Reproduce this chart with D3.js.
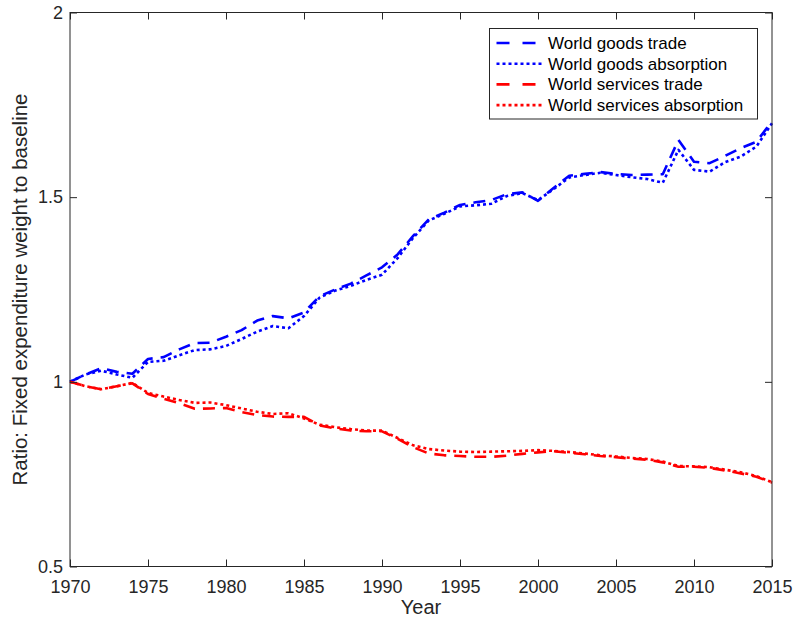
<!DOCTYPE html>
<html>
<head>
<meta charset="utf-8">
<script src="https://cdn.jsdelivr.net/npm/d3@7"></script>
<style>
  html, body { margin: 0; padding: 0; background: #fff; }
  svg { display: block; font-family: "Liberation Sans", Arial, Helvetica, sans-serif; }
</style>
</head>
<body>
<svg id="chart" width="796" height="627"></svg>
<script>
// Years 1970–2015
const years = d3.range(1970, 2016);

const goodsTrade = [
  1.000, 1.020, 1.037, 1.027, 1.022, 1.062, 1.067, 1.088, 1.105, 1.106,
  1.122, 1.140, 1.166, 1.178, 1.172, 1.188, 1.232, 1.250, 1.266, 1.288,
  1.310, 1.345, 1.395, 1.440, 1.458, 1.479, 1.486, 1.492, 1.508, 1.513,
  1.490, 1.525, 1.558, 1.563, 1.568, 1.563, 1.560, 1.561, 1.562, 1.655,
  1.596, 1.592, 1.612, 1.633, 1.650, 1.705
];
const goodsAbsorption = [
  1.000, 1.020, 1.030, 1.020, 1.011, 1.054, 1.057, 1.072, 1.086, 1.088,
  1.097, 1.116, 1.136, 1.151, 1.145, 1.178, 1.228, 1.247, 1.260, 1.276,
  1.290, 1.335, 1.390, 1.437, 1.455, 1.475, 1.478, 1.482, 1.503, 1.511,
  1.492, 1.522, 1.553, 1.560, 1.566, 1.560, 1.554, 1.549, 1.539, 1.628,
  1.574, 1.569, 1.595, 1.610, 1.637, 1.700
];
const servicesTrade = [
  1.000, 0.988, 0.980, 0.988, 0.996, 0.967, 0.954, 0.942, 0.927, 0.928,
  0.929, 0.918, 0.910, 0.906, 0.905, 0.905, 0.882, 0.874, 0.868, 0.866,
  0.866, 0.846, 0.823, 0.806, 0.801, 0.799, 0.797, 0.797, 0.800, 0.805,
  0.809, 0.812, 0.808, 0.804, 0.799, 0.796, 0.792, 0.789, 0.782, 0.770,
  0.770, 0.767, 0.760, 0.752, 0.743, 0.727
];
const servicesAbsorption = [
  1.000, 0.988, 0.980, 0.988, 0.997, 0.970, 0.960, 0.951, 0.943, 0.944,
  0.937, 0.928, 0.919, 0.913, 0.915, 0.901, 0.884, 0.877, 0.872, 0.868,
  0.868, 0.848, 0.828, 0.818, 0.814, 0.811, 0.810, 0.811, 0.812, 0.813,
  0.815, 0.813, 0.810, 0.806, 0.801, 0.798, 0.794, 0.791, 0.784, 0.772,
  0.771, 0.769, 0.762, 0.755, 0.745, 0.728
];

const xTicks = d3.range(1970, 2016, 5);
const yTicks = [0.5, 1, 1.5, 2];

const seriesNames = [
  "World goods trade",
  "World goods absorption",
  "World services trade",
  "World services absorption"
];
const seriesValues = [goodsTrade, goodsAbsorption, servicesTrade, servicesAbsorption];
const seriesColors = ["#0000ff", "#0000ff", "#ff0000", "#ff0000"];
const seriesDashed = [true, false, true, false];

const margin = { left: 70, right: 24, top: 12.5, bottom: 60.5 };
const W = 796, H = 627;
const iw = W - margin.left - margin.right;
const ih = H - margin.top - margin.bottom;

const svg = d3.select("#chart");
const g = svg.append("g").attr("transform", `translate(${margin.left},${margin.top})`);

const x = d3.scaleLinear().domain([1970, 2015]).range([0, iw]);
const y = d3.scaleLinear().domain([0.5, 2]).range([ih, 0]);

const axisColor = "#262626";
const tickLen = 7;

// Series lines
const line = d3.line()
  .x((d, i) => x(years[i]))
  .y(d => y(d));

svg.append("defs").append("clipPath").attr("id", "plotclip")
  .append("rect").attr("x", -2).attr("y", -2).attr("width", iw + 4).attr("height", ih + 4);

const lines = g.append("g").attr("clip-path", "url(#plotclip)");
seriesValues.forEach((vals, k) => {
  lines.append("path")
    .datum(vals)
    .attr("d", line)
    .attr("fill", "none")
    .attr("stroke", seriesColors[k])
    .attr("stroke-width", 2.6)
    .attr("stroke-dasharray", seriesDashed[k] ? "12,8" : "3,3")
    .attr("stroke-linejoin", "round");
});

// Axes: boxed, inward ticks on all four sides
function styleAxis(sel) {
  sel.select(".domain").remove();
  sel.selectAll(".tick line").attr("stroke", axisColor).attr("stroke-width", 1);
  sel.selectAll(".tick text").attr("fill", "#262626").style("font-size", "18px");
}

const xBottom = g.append("g").attr("transform", `translate(0,${ih})`)
  .call(d3.axisBottom(x).tickValues(xTicks).tickFormat(d3.format("d"))
    .tickSizeInner(-tickLen).tickSizeOuter(0).tickPadding(14));
styleAxis(xBottom);

const xTop = g.append("g")
  .call(d3.axisTop(x).tickValues(xTicks).tickFormat("")
    .tickSizeInner(-tickLen).tickSizeOuter(0));
styleAxis(xTop);

const yLeft = g.append("g")
  .call(d3.axisLeft(y).tickValues(yTicks).tickFormat(d => String(d))
    .tickSizeInner(-tickLen).tickSizeOuter(0).tickPadding(7));
styleAxis(yLeft);

const yRight = g.append("g").attr("transform", `translate(${iw},0)`)
  .call(d3.axisRight(y).tickValues(yTicks).tickFormat("")
    .tickSizeInner(-tickLen).tickSizeOuter(0));
styleAxis(yRight);

g.append("rect")
  .attr("x", 0).attr("y", 0).attr("width", iw).attr("height", ih)
  .attr("fill", "none").attr("stroke", axisColor).attr("stroke-width", 1);

// Axis titles
svg.append("text")
  .attr("x", margin.left + iw / 2)
  .attr("y", 614)
  .attr("text-anchor", "middle")
  .attr("fill", "#262626")
  .style("font-size", "20px")
  .text("Year");

svg.append("text")
  .attr("transform", `translate(27,${margin.top + ih / 2}) rotate(-90)`)
  .attr("text-anchor", "middle")
  .attr("fill", "#262626")
  .style("font-size", "20.5px")
  .text("Ratio: Fixed expenditure weight to baseline");

// Legend
const legend = svg.append("g").attr("transform", "translate(489.5,28.5)");
legend.append("rect")
  .attr("width", 268).attr("height", 90.5)
  .attr("fill", "#fff").attr("stroke", axisColor).attr("stroke-width", 1);

seriesNames.forEach((name, k) => {
  const ly = 14.5 + k * 20.7;
  legend.append("line")
    .attr("x1", 7).attr("x2", seriesDashed[k] ? 46 : 53)
    .attr("y1", ly).attr("y2", ly)
    .attr("stroke", seriesColors[k])
    .attr("stroke-width", 2.6)
    .attr("stroke-dasharray", seriesDashed[k] ? "13,13" : "3,3");
  legend.append("text")
    .attr("x", 58.5).attr("y", ly)
    .attr("dy", "0.35em")
    .attr("fill", "#000")
    .style("font-size", "17px")
    .text(name);
});
</script>
</body>
</html>
